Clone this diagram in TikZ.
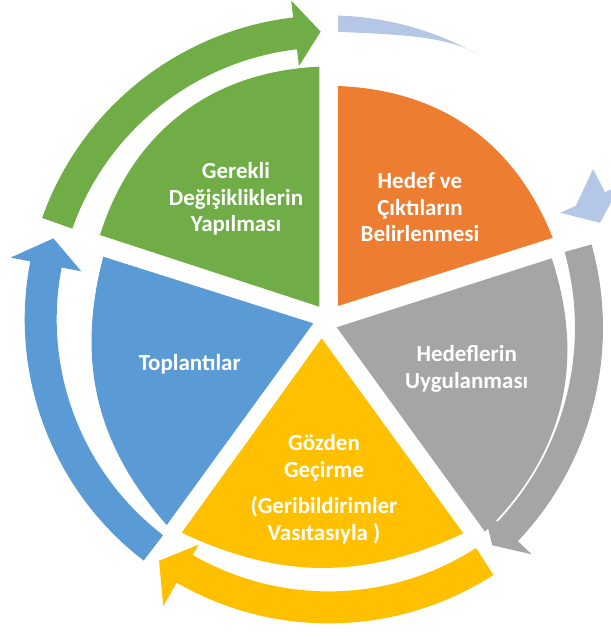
\documentclass[tikz,border=0pt]{standalone}
\usepackage{fontspec}
\setmainfont{Carlito}
\definecolor{cGreen}{HTML}{70AD47}
\definecolor{cOrange}{HTML}{ED7D31}
\definecolor{cGray}{HTML}{A5A5A5}
\definecolor{cYellow}{HTML}{FFC000}
\definecolor{cBlue}{HTML}{5B9BD5}
\definecolor{cPale}{HTML}{B4C7E7}
\begin{document}
\begin{tikzpicture}[x=1pt,y=1pt,declare function={ri=272;ro=304;},
	lbl/.style={text=white,font=\fontsize{23}{26.5}\selectfont\bfseries,align=center}]
	\useasboundingbox (-328.7,-318.6) rectangle (282.3,319.4);
	\path 
	(-9.4,12.7) coordinate (G0) (-9.4,252.7) coordinate (G1) (-228.7,84.4) coordinate (G2)
	(9.3,13.4) coordinate (O0) (9.3,233.4) coordinate (O1) (224,81.7) coordinate (O2)
	(8,-7.9) coordinate (R0) (223,61.1) coordinate (R1) (156.3,-212.3) coordinate (R2)
	(-7,-18.9) coordinate (Y0) (134.6,-213.9) coordinate (Y1) (-147,-213.3) coordinate (Y2)
	(-15.4,-3.9) coordinate (B0) (-162,-205.6) coordinate (B1) (-225.4,62.7) coordinate (B2);
	% segments
	\fill[cGreen] (G0)--(G1) to[bend right=35] (G2)--cycle;
	\fill[cOrange] (O0)--(O1) to[bend left=33] (O2)--cycle;
	\fill[cGray] (R0)--(R1) to[bend left=32] (R2)--cycle;
	\fill[cYellow] (Y0)--(Y1) to[bend left=25] (Y2)--cycle;
	\fill[cBlue] (B0)--(B1) to[bend left=28] (B2)--cycle;
	% arrows round the cycle
	\foreach \c/\t/\b/\p/\hi/\ho/\pr in {cGreen/160.5/96.7/91.6/255/321/288,cBlue/232.5/169/163.6/252/324/287,cYellow/302.8/240/234.9/260/331/295}
	\fill[\c] (\t:ro) arc[start angle=\t,end angle=\b,radius=ro] -- (\b:\ho) -- (\p:\pr) -- (\b:\hi) -- (\b:ri) arc[start angle=\b,end angle=\t,radius=ri] -- cycle;
	\begin{scope}[shift={(-35.7,-8.4)}]
		\fill[cGray] (15.6:310) arc[start angle=15.6,end angle=-43.5,radius=310] -- (-43.5:329) -- (-47.5:295) -- (-43.5:262) -- (-43.5:282) arc[start angle=-43.5,end angle=15.6,radius=282] -- cycle;
	\end{scope}
	\fill[cPale] (88.2:ro) arc[start angle=88.2,end angle=60.4,radius=ro] .. controls (117.9,285.2) and (57.3,284.9) .. (9.3,287.7) -- cycle;
	\fill[cPale] (231.6,106.6) -- (247.1,113.6) -- (29.6:ro) arc[start angle=29.6,end angle=24.7,radius=ro] -- (291.6,134.2) -- (271.3,96.6) -- cycle;
	% labels
	\node[lbl] (gerekli) at (-92.7,120.4) {Gerekli\\Değişikliklerin\\Yapılması};
	\node[lbl] (hedef) at (91.3,112.1) {Hedef ve\\Çıktıların\\Belirlenmesi};
	\node[lbl] (uygula) at (138,-49.3) {Hedeflerin\\Uygulanması};
	\node[lbl] (gozden) at (-4.7,-170) {Gözden\\Geçirme\\[10pt](Geribildirimler\\Vasıtasıyla )};
	\node[lbl] (toplanti) at (-139,-45.3) {Toplantılar};
\end{tikzpicture}
\end{document}
